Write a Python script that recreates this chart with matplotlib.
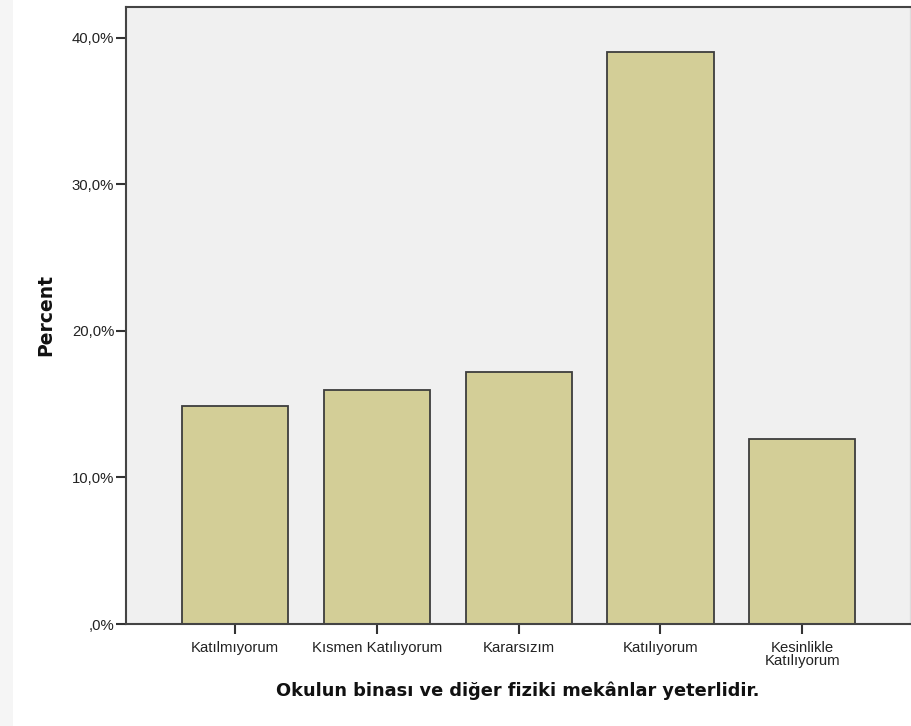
import matplotlib
matplotlib.use("Agg")
import matplotlib.pyplot as plt
from matplotlib.ticker import FuncFormatter
from matplotlib.patches import Rectangle

categories = ["Katılmıyorum", "Kısmen Katılıyorum", "Kararsızım", "Katılıyorum", "Kesinlikle\nKatılıyorum"]
percent = [14.9, 16.0, 17.2, 39.0, 12.6]
yticks = [0, 10, 20, 30, 40]
xlabel = "Okulun binası ve diğer fiziki mekânlar yeterlidir."
ylabel = "Percent"

plt.rcParams['font.family'] = ['Liberation Sans', 'DejaVu Sans']

fig = plt.figure(figsize=(9.11, 7.26), dpi=100)
fig.patch.set_facecolor("white")
# faint page-shadow strip on the left
fig.add_artist(Rectangle((0, 0), 13/911, 1, transform=fig.transFigure,
                         facecolor="#f5f5f5", edgecolor="none", zorder=0))

ax = fig.add_axes([126/911, (726-624)/726, (910-126)/911, (624-7)/726])
ax.set_facecolor("#f0f0f0")

x = list(range(len(categories)))
ax.bar(x, percent, width=0.75, color="#d3ce97", edgecolor="#3d3d3d", linewidth=1.3, zorder=2)

ax.set_xlim(-0.77, 4.76)
ax.set_ylim(0, 42.1)
ax.set_yticks(yticks)
ax.yaxis.set_major_formatter(FuncFormatter(lambda v, p: (f"{v:.1f}".replace(".", ",") + "%") if v != 0 else ",0%"))
ax.set_xticks(x)
ax.set_xticklabels(categories, fontsize=10.7, color="#222222", linespacing=0.9)
ax.tick_params(axis="y", labelsize=10.7, labelcolor="#222222", length=7, width=1.5, color="#333333", pad=1.5)
ax.tick_params(axis="x", length=7, width=1.5, color="#333333", pad=5)

for s in ax.spines.values():
    s.set_color("#444444")
    s.set_linewidth(1.5)
ax.spines["right"].set_color("#dddddd")
ax.spines["right"].set_linewidth(1)

ax.set_xlabel(xlabel, fontsize=12.8, fontweight="bold", labelpad=10, color="#111111", family="DejaVu Sans")
ax.set_ylabel(ylabel, fontsize=13.5, fontweight="bold", labelpad=12, color="#111111", family="DejaVu Sans")

fig.savefig("out.png", dpi=100)
